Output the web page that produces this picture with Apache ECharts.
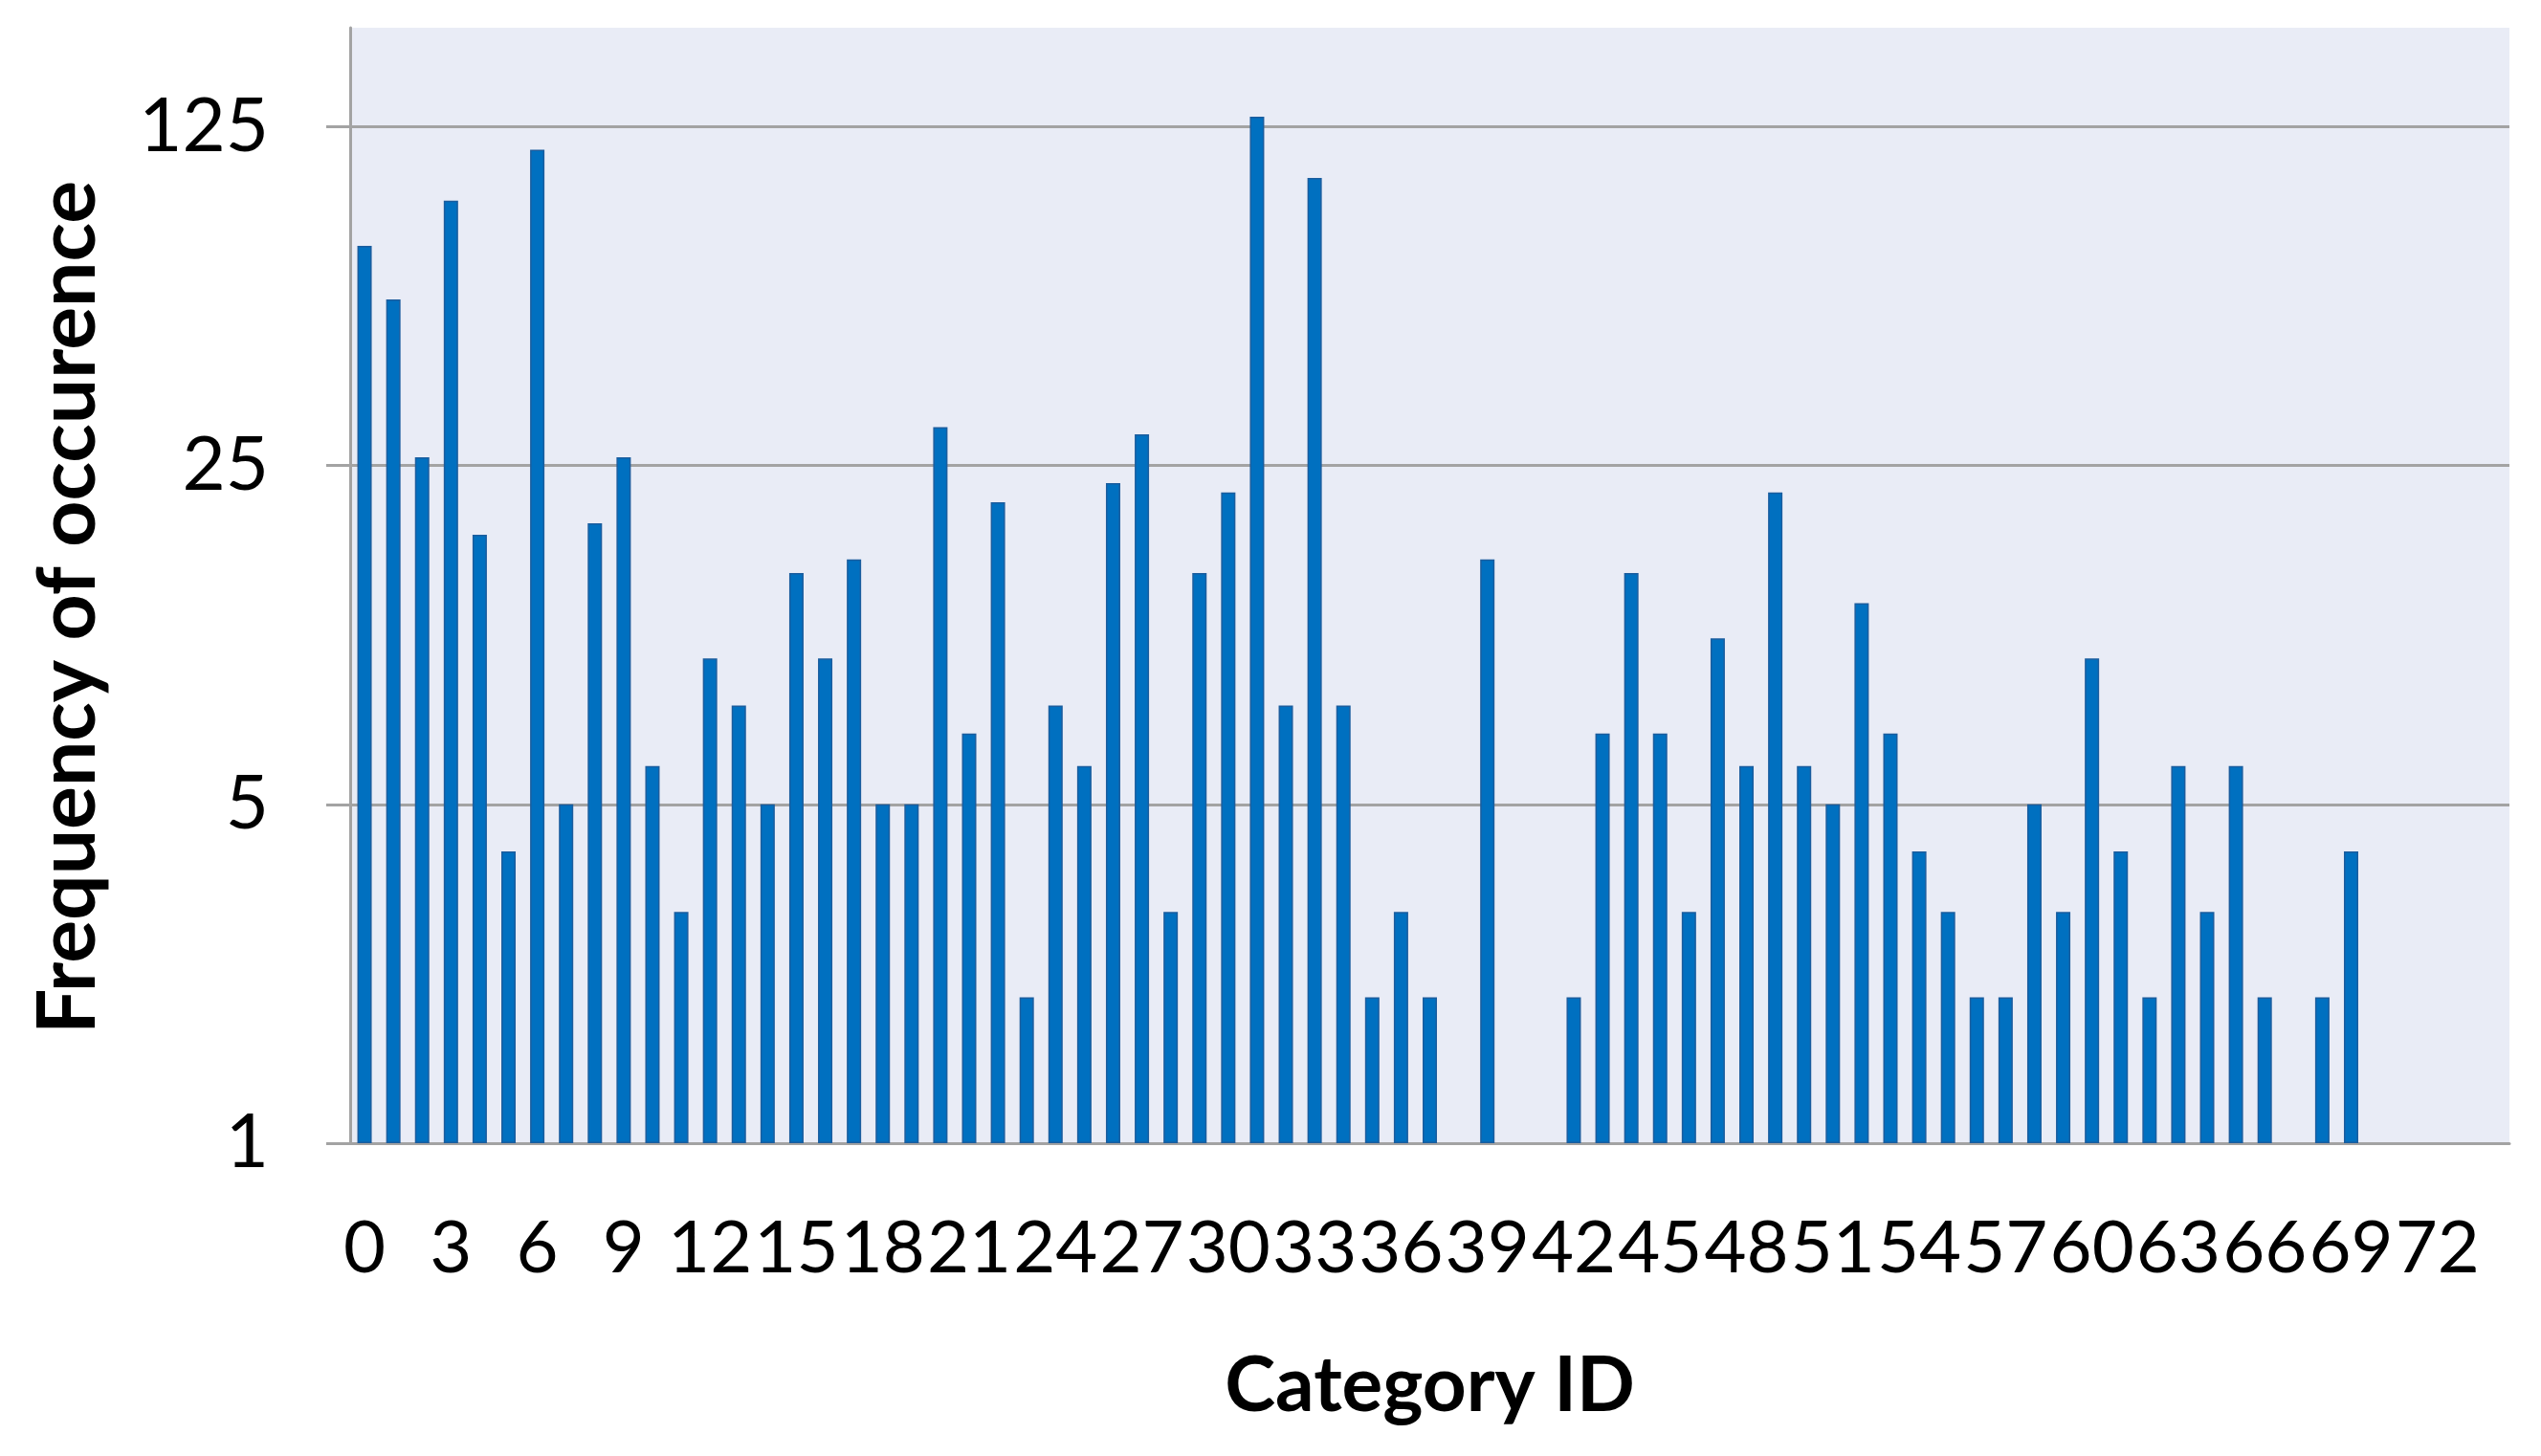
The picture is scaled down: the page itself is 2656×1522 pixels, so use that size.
<!DOCTYPE html>
<html>
<head>
<meta charset="utf-8">
<title>Frequency of occurence</title>
<script src="https://cdn.jsdelivr.net/npm/echarts@6/dist/echarts.min.js"></script>
<style>
    html, body { margin: 0; padding: 0; background: #fff; }
    #chart { width: 2656px; height: 1522px; }
</style>
</head>
<body>
<div id="chart"></div>
<script>
// category ids 0..74
var categories = [];
for (var i = 0; i <= 74; i++) categories.push(String(i));

// frequency per category, null = no bar
var frequency = [
    71, 55, 26, 88, 18, 4, 112, 5, 19, 26,
    6, 3, 10, 8, 5, 15, 10, 16, 5, 5,
    30, 7, 21, 2, 8, 6, 23, 29, 3, 15,
    22, 131, 8, 98, 8, 2, 3, 2, null, 16,
    null, null, 2, 7, 15, 7, 3, 11, 6, 22,
    6, 5, 13, 7, 4, 3, 2, 2, 5, 3,
    10, 4, 2, 6, 3, 6, 2, null, 2, 4,
    null, null, null, null, null
];

var yMin = 1;
var yMax = 200;

var chart = echarts.init(document.getElementById('chart'));
var gray = '#a3a3a3';

var option = {
    backgroundColor: '#ffffff',
    animation: false,
    grid: {
        left: 366,
        right: 33,
        top: 29,
        bottom: 327,
        show: true,
        backgroundColor: '#e9ecf6',
        borderWidth: 0
    },
    xAxis: {
        type: 'category',
        data: categories,
        name: 'Category ID',
        nameLocation: 'middle',
        nameGap: 214,
        nameTextStyle: {
            fontFamily: 'Lato',
            fontWeight: 'bold',
            fontSize: 80,
            color: '#000'
        },
        axisLine: { show: true, lineStyle: { color: gray, width: 3 } },
        axisTick: { show: false },
        axisLabel: {
            // every third id, like the original
            interval: function (index) { return index % 3 === 0; },
            hideOverlap: false,
            margin: 72,
            fontFamily: 'Lato',
            fontSize: 76,
            color: '#000'
        },
        splitLine: { show: false }
    },
    yAxis: {
        type: 'log',
        logBase: 5,
        min: yMin,
        max: yMax,
        name: 'Frequency of occurence',
        nameLocation: 'middle',
        nameRotate: 90,
        nameGap: 252,
        nameTextStyle: {
            fontFamily: 'Lato',
            fontWeight: 'bold',
            fontSize: 84,
            color: '#000',
            padding: [0, 46, 0, 0]
        },
        axisLine: { show: true, lineStyle: { color: gray, width: 3 } },
        axisTick: { show: true, length: 25, lineStyle: { color: gray, width: 3 } },
        axisLabel: {
            margin: 85,
            showMaxLabel: false,
            fontFamily: 'Lato',
            fontSize: 78,
            color: '#000'
        },
        splitLine: {
            show: true,
            showMaxLine: false,
            lineStyle: { color: gray, width: 3 }
        }
    },
    series: [{
        type: 'bar',
        data: frequency,
        barWidth: 15,
        itemStyle: {
            color: '#0070c0',
            borderColor: '#1b5d9e',
            borderWidth: 1.5
        }
    }]
};

chart.setOption(option);
</script>
</body>
</html>
